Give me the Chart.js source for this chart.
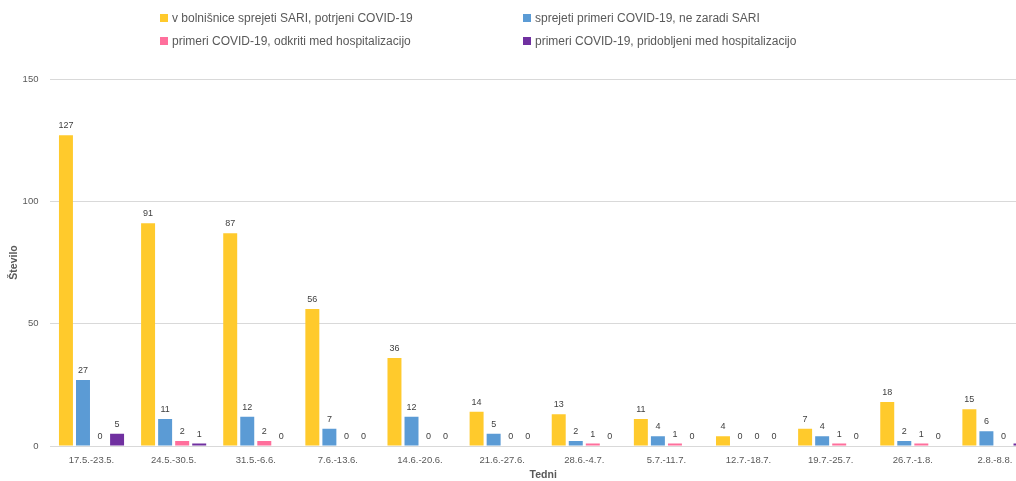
<!DOCTYPE html>
<html>
<head>
<meta charset="utf-8">
<script src="https://cdn.jsdelivr.net/npm/chart.js@4/dist/chart.umd.min.js"></script>
<style>
  html, body { margin: 0; padding: 0; background: #fff; overflow: hidden; }
  #wrap { position: relative; width: 1045px; height: 481px; }
  #legend { position: absolute; left: 0; top: 0; width: 1016px; height: 60px;
            font-family: "Liberation Sans", sans-serif; font-size: 12px; color: #595959; }
  .item { position: absolute; white-space: nowrap; line-height: 14px; }
  .box { display: inline-block; width: 8px; height: 8px; margin-right: 4px; }
</style>
</head>
<body>
<div id="wrap">
  <canvas id="chart" width="1045" height="481"></canvas>
  <div id="legend"></div>
</div>
<script>
const weeks = ['17.5.-23.5.', '24.5.-30.5.', '31.5.-6.6.', '7.6.-13.6.', '14.6.-20.6.', '21.6.-27.6.',
               '28.6.-4.7.', '5.7.-11.7.', '12.7.-18.7.', '19.7.-25.7.', '26.7.-1.8.', '2.8.-8.8.'];
const sariConfirmed = [127, 91, 87, 56, 36, 14, 13, 11, 4, 7, 18, 15];
const notSari = [27, 11, 12, 7, 12, 5, 2, 4, 0, 4, 2, 6];
const foundInHospital = [0, 2, 2, 0, 0, 0, 1, 1, 0, 1, 1, 0];
const acquiredInHospital = [5, 1, 0, 0, 0, 0, 0, 0, 0, 0, 0, 1];
const yTicks = [0, 50, 100, 150];

const seriesNames = [
    'v bolnišnice sprejeti SARI, potrjeni COVID-19',
    'sprejeti primeri COVID-19, ne zaradi SARI',
    'primeri COVID-19, odkriti med hospitalizacijo',
    'primeri COVID-19, pridobljeni med hospitalizacijo'
];
const colors = ['#FFCA2C', '#5B9BD5', '#FF6F9C', '#7030A0'];
const textColor = '#595959';

// legend laid out as a 2x2 grid like the original
const legendPos = [[160, 11], [523, 11], [160, 34], [523, 34]];
const legendEl = document.getElementById('legend');
seriesNames.forEach((name, i) => {
    const div = document.createElement('div');
    div.className = 'item';
    div.style.left = legendPos[i][0] + 'px';
    div.style.top = legendPos[i][1] + 'px';
    div.innerHTML = '<span class="box" style="background:' + colors[i] + '"></span>' + name;
    legendEl.appendChild(div);
});

const valueLabels = {
    id: 'valueLabels',
    afterDatasetsDraw(chart) {
        const ctx = chart.ctx;
        ctx.save();
        ctx.font = '9px "Liberation Sans", sans-serif';
        ctx.fillStyle = '#404040';
        ctx.textAlign = 'center';
        ctx.textBaseline = 'bottom';
        chart.data.datasets.forEach((ds, i) => {
            chart.getDatasetMeta(i).data.forEach((bar, j) => {
                ctx.fillText(ds.data[j], bar.x, bar.y - 5);
            });
        });
        ctx.restore();
    }
};

const data = [sariConfirmed, notSari, foundInHospital, acquiredInHospital];

new Chart(document.getElementById('chart'), {
    type: 'bar',
    data: {
        labels: weeks,
        datasets: data.map((d, i) => ({
            label: seriesNames[i],
            data: d,
            backgroundColor: colors[i],
            categoryPercentage: 0.83,
            barPercentage: 0.82
        }))
    },
    options: {
        animation: false,
        responsive: false,
        layout: { padding: { top: 79, right: 9, left: 8, bottom: 0 } },
        plugins: {
            legend: { display: false },
            tooltip: { enabled: false }
        },
        scales: {
            x: {
                grid: { display: false, drawTicks: true, tickLength: 8 },
                border: { color: '#d9d9d9' },
                ticks: { color: textColor, font: { family: 'Liberation Sans', size: 9.5 }, maxRotation: 0, padding: 1 },
                title: { display: true, text: 'Tedni', color: textColor,
                         font: { family: 'Liberation Sans', size: 10.5, weight: 'bold' }, padding: { top: 1, bottom: 0 } }
            },
            y: {
                min: 0,
                max: 150,
                afterBuildTicks: axis => { axis.ticks = yTicks.map(v => ({ value: v })); },
                grid: { color: '#d9d9d9', drawTicks: true, tickLength: 10, tickColor: 'rgba(0,0,0,0)' },
                border: { display: false },
                ticks: { color: textColor, font: { family: 'Liberation Sans', size: 9.5 }, padding: 2 },
                title: { display: true, text: 'Število', color: textColor,
                         font: { family: 'Liberation Sans', size: 10.5, weight: 'bold' }, padding: { top: 0, bottom: 0 } }
            }
        }
    },
    plugins: [valueLabels]
});
</script>
</body>
</html>
